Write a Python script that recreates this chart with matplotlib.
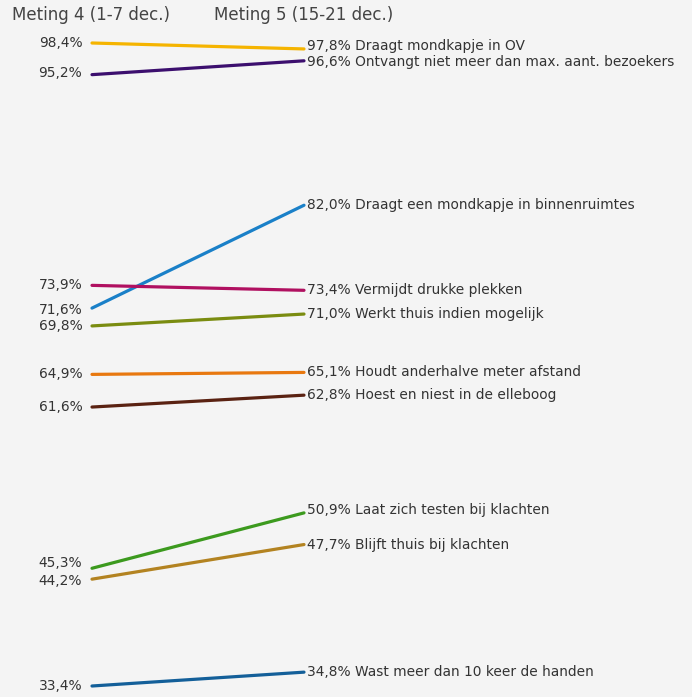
import matplotlib
matplotlib.use("Agg")
import matplotlib.pyplot as plt

labels = [
    "Draagt mondkapje in OV",
    "Ontvangt niet meer dan max. aant. bezoekers",
    "Draagt een mondkapje in binnenruimtes",
    "Vermijdt drukke plekken",
    "Werkt thuis indien mogelijk",
    "Houdt anderhalve meter afstand",
    "Hoest en niest in de elleboog",
    "Laat zich testen bij klachten",
    "Blijft thuis bij klachten",
    "Wast meer dan 10 keer de handen",
]
meting4 = [98.4, 95.2, 71.6, 73.9, 69.8, 64.9, 61.6, 45.3, 44.2, 33.4]
meting5 = [97.8, 96.6, 82.0, 73.4, 71.0, 65.1, 62.8, 50.9, 47.7, 34.8]
headers = ["Meting 4 (1-7 dec.)", "Meting 5 (15-21 dec.)"]

colors = ["#f5b400", "#3c0f6e", "#1a80c8", "#b01060", "#7a8c10",
          "#e8780f", "#5a2212", "#3c9a1e", "#b38321", "#135f99"]
# small vertical nudges (points) for label readability
left_nudge = [0, 1, -1, 0, 0, 0, 0, 4, -1, 0]
right_nudge = [2, -0.5, 0, 0, 0, 0, 0, 2, 0, 0]

W, H = 692, 697
fig = plt.figure(figsize=(W / 100, H / 100), dpi=100)
fig.patch.set_facecolor("#f4f4f4")
ax = fig.add_axes([0, 0, 1, 1])
ax.set_facecolor("#f4f4f4")
ax.axis("off")

x0_px, x1_px = 92, 304
y_top_px, y_bot_px = 43, 686
ppp = (y_bot_px - y_top_px) / (max(meting4) - min(meting4))
ax.set_xlim(-x0_px / (x1_px - x0_px), (W - x0_px) / (x1_px - x0_px))
top_val = max(meting4) + y_top_px / ppp
bot_val = max(meting4) - (H - y_top_px) / ppp
ax.set_ylim(bot_val, top_val)

txtc = "#333333"
fs = 9.9
for lab, a, b, c, ln, rn in zip(labels, meting4, meting5, colors, left_nudge, right_nudge):
    ax.plot([0, 1], [a, b], color=c, lw=2.3, solid_capstyle="round")
    ax.annotate(f"{a:.1f}%".replace(".", ","), (0, a), xytext=(-7, ln),
                textcoords="offset points", ha="right", va="center",
                fontsize=fs, color=txtc)
    ax.annotate(f"{b:.1f}% {lab}".replace(".", ",", 1), (1, b), xytext=(2, rn),
                textcoords="offset points", ha="left", va="center",
                fontsize=fs, color=txtc)

fig.text(12 / W, 1 - 15 / H, headers[0], ha="left", va="center",
         fontsize=12, color="#444444")
fig.text(214 / W, 1 - 15 / H, headers[1], ha="left", va="center",
         fontsize=12, color="#444444")

fig.savefig("out.png", dpi=100, facecolor=fig.get_facecolor())
